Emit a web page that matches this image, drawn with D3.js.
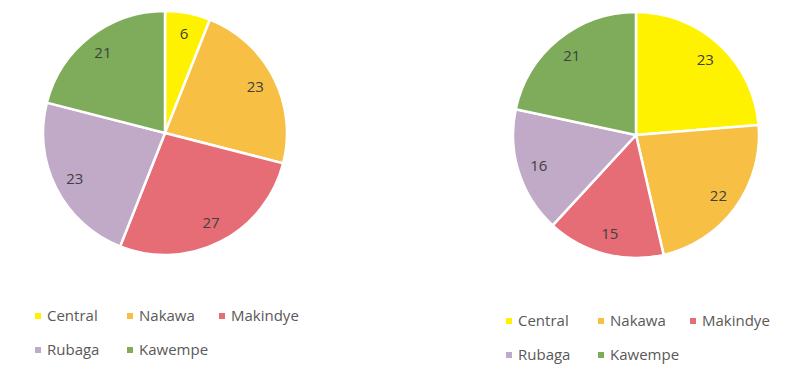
<!DOCTYPE html>
<html>
<head>
<meta charset="utf-8">
<script src="https://cdn.jsdelivr.net/npm/d3@7"></script>
<style>
  body { margin: 0; background: #fff; }
  svg { display: block; font-family: "Open Sans", "Liberation Sans", sans-serif; }
</style>
</head>
<body>
<div id="chart"></div>
<script>
// 数据
const divisions = ['Central', 'Nakawa', 'Makindye', 'Rubaga', 'Kawempe'];
const leftValues = [6, 23, 27, 23, 21];
const rightValues = [23, 22, 15, 16, 21];
const sliceColors = ['#FFF200', '#F8BF45', '#E66C76', '#C0AAC8', '#7EAC5A'];

const width = 811, height = 371;

const svg = d3.select('#chart')
    .append('svg')
    .attr('width', width)
    .attr('height', height);

const color = d3.scaleOrdinal().domain(divisions).range(sliceColors);

// 画一个饼图
function drawPie(values, cx, cy, r) {
    const data = divisions.map((name, i) => ({ name, value: values[i] }));
    const pie = d3.pie().value(d => d.value).sort(null);
    const arc = d3.arc().innerRadius(0).outerRadius(r);
    const labelArc = d3.arc().innerRadius(r * 0.83).outerRadius(r * 0.83);

    const g = svg.append('g').attr('transform', `translate(${cx},${cy})`);

    g.selectAll('path')
        .data(pie(data))
        .join('path')
        .attr('d', arc)
        .attr('fill', d => color(d.data.name))
        .attr('stroke', '#fff')
        .attr('stroke-width', 2.5);

    g.selectAll('text')
        .data(pie(data))
        .join('text')
        .attr('transform', d => `translate(${labelArc.centroid(d)})`)
        .attr('text-anchor', 'middle')
        .attr('dy', '0.35em')
        .attr('fill', '#404040')
        .style('font-size', '15px')
        .text(d => d.data.value);
}

// 图例
function drawLegend(x0, y0, colStep, rowStep) {
    const g = svg.append('g');
    const items = g.selectAll('g')
        .data(divisions)
        .join('g')
        .attr('transform', (d, i) => `translate(${x0 + (i % 3) * colStep},${y0 + Math.floor(i / 3) * rowStep})`);

    items.append('rect')
        .attr('x', 0).attr('y', -3)
        .attr('width', 6).attr('height', 6)
        .attr('fill', d => color(d));

    items.append('text')
        .attr('x', 12)
        .attr('dy', '0.35em')
        .attr('fill', '#595959')
        .style('font-size', '15px')
        .text(d => d);
}

drawPie(leftValues, 165, 133, 122);
drawPie(rightValues, 636, 135, 123);
drawLegend(35, 316, 92, 34);
drawLegend(506, 321, 92, 34);
</script>
</body>
</html>
